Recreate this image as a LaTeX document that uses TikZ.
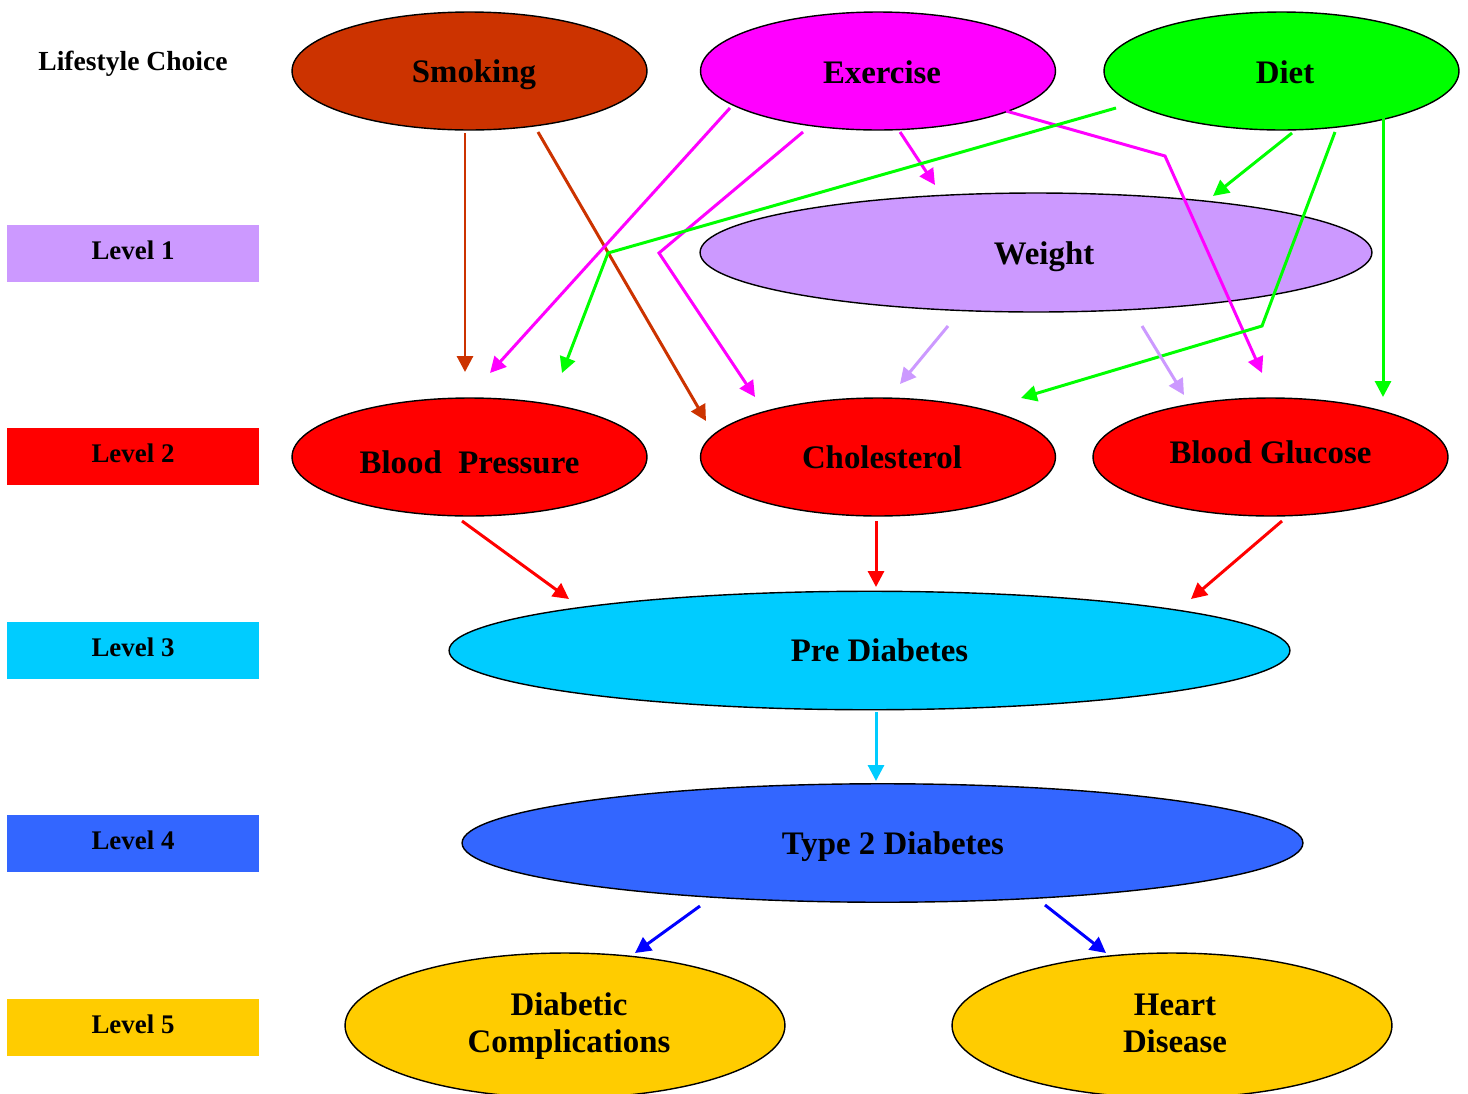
\documentclass[tikz,border=0pt]{standalone}
\usepackage{fontspec}
\setmainfont{Liberation Serif}
\usetikzlibrary{shapes.geometric,arrows.meta}
\definecolor{smokec}{HTML}{CC3300}
\definecolor{exc}{HTML}{FF00FF}
\definecolor{dietc}{HTML}{00FF00}
\definecolor{lav}{HTML}{CC99FF}
\definecolor{redc}{HTML}{FF0000}
\definecolor{cyanc}{HTML}{00CCFF}
\definecolor{bluec}{HTML}{3366FF}
\definecolor{arrblue}{HTML}{0000FF}
\definecolor{goldc}{HTML}{FFCC00}
\tikzset{
  ell/.style={ellipse, draw=black, line width=0.8pt, inner sep=0pt},
  small/.style={ell, minimum width=7.1cm, minimum height=2.36cm},
  wide/.style={ell, minimum width=16.82cm, minimum height=2.37cm},
  bottom/.style={ell, minimum width=8.8cm, minimum height=2.9cm},
  txt/.style={font=\fontsize{18.7}{21}\selectfont\bfseries, align=center, inner sep=0pt, text=black},
  lvl/.style={rectangle, minimum width=5.04cm, minimum height=1.14cm, inner sep=0pt},
  lvlt/.style={inner sep=0pt, font=\fontsize{15.3}{18}\selectfont\bfseries},
  conn/.style={line width=1.7pt, -{Triangle[length=9pt,width=9pt]}},
}
\begin{document}
\begin{tikzpicture}[x=0.02cm,y=-0.02cm]
\clip (0,0) rectangle (1468,1093);
\fill[white] (0,0) rectangle (1468,1093);

% level labels
\node[font=\fontsize{15.7}{18}\selectfont\bfseries, inner sep=0pt] (lifestyle) at (133,64) {Lifestyle Choice};
\node[lvl, fill=lav] (l1) at (133,253.5) {};
\node[lvl, fill=redc] (l2) at (133,456.5) {};
\node[lvl, fill=cyanc] (l3) at (133,650.5) {};
\node[lvl, fill=bluec] (l4) at (133,843.5) {};
\node[lvl, fill=goldc] (l5) at (133,1027.5) {};
\node[lvlt] (l1t) at (133,250.5) {Level 1};
\node[lvlt] (l2t) at (133,453.5) {Level 2};
\node[lvlt] (l3t) at (133,647.5) {Level 3};
\node[lvlt] (l4t) at (133,840.5) {Level 4};
\node[lvlt] (l5t) at (133,1024.5) {Level 5};

% ellipses
\node[small, fill=smokec] (smoking) at (469.5,71) {};
\node[small, fill=exc] (exercise) at (878,71) {};
\node[small, fill=dietc] (diet) at (1281.5,71) {};
\node[ell, fill=lav, minimum width=13.44cm, minimum height=2.38cm] (weight) at (1036,252.5) {};
\node[small, fill=redc] (bp) at (469.5,457) {};
\node[small, fill=redc] (chol) at (878,457) {};
\node[small, fill=redc] (bg) at (1270.5,457) {};
\node[wide, fill=cyanc] (pre) at (869.5,650.5) {};
\node[wide, fill=bluec] (t2) at (882.5,843) {};
\node[bottom, fill=goldc] (dc) at (565,1025.5) {};
\node[bottom, fill=goldc] (hd) at (1172,1025.5) {};

% texts
\node[txt] (smokingt) at (474,75) {Smoking};
\node[txt] (exerciset) at (882,72) {Exercise};
\node[txt] (diett) at (1285,72) {Diet};
\node[txt] (weightt) at (1044,257) {Weight};
\node[txt] (bpt) at (469.5,462) {Blood\ \ Pressure};
\node[txt] (cholt) at (882,457) {Cholesterol};
\node[txt] (bgt) at (1270.5,452) {Blood Glucose};
\node[txt] (pret) at (879.5,650) {Pre Diabetes};
\node[txt] (t2t) at (893,847) {Type 2 Diabetes};
\node[txt] (dct) at (569,1026) {Diabetic\\Complications};
\node[txt] (hdt) at (1175,1023) {Heart\\Disease};

% connector end points
\coordinate (s1a) at (465,133); \coordinate (s1b) at (465,372);
\coordinate (s2a) at (538,132); \coordinate (s2b) at (706,421);
\coordinate (e1a) at (730,108); \coordinate (e1b) at (490,373);
\coordinate (e2a) at (803,132); \coordinate (e2k) at (659,253); \coordinate (e2b) at (755,397);
\coordinate (e3a) at (900,132); \coordinate (e3b) at (935,185);
\coordinate (e4a) at (1006,111); \coordinate (e4k) at (1165,156); \coordinate (e4b) at (1262,373);
\coordinate (d1a) at (1116,108); \coordinate (d1k) at (608,253); \coordinate (d1b) at (562,373);
\coordinate (d2a) at (1292,133); \coordinate (d2b) at (1213,196);
\coordinate (d3a) at (1335,132); \coordinate (d3k) at (1262,326); \coordinate (d3b) at (1021,398);
\coordinate (d4a) at (1383,118); \coordinate (d4b) at (1383,397);
\coordinate (w1a) at (948,326); \coordinate (w1b) at (900,384);
\coordinate (w2a) at (1142,326); \coordinate (w2b) at (1184,395);
\coordinate (r1a) at (462,521); \coordinate (r1b) at (569,599);
\coordinate (r2a) at (876,521); \coordinate (r2b) at (876,587);
\coordinate (r3a) at (1282,521); \coordinate (r3b) at (1191,599);
\coordinate (c1a) at (876,712); \coordinate (c1b) at (876,781);
\coordinate (b1a) at (700,906); \coordinate (b1b) at (635,953);
\coordinate (b2a) at (1045,905); \coordinate (b2b) at (1106,953);

% connectors
\draw[conn, smokec] (s1a) -- (s1b);
\draw[conn, smokec] (s2a) -- (s2b);
\draw[conn, exc] (e1a) -- (e1b);
\draw[conn, exc] (e2a) -- (e2k) -- (e2b);
\draw[conn, exc] (e3a) -- (e3b);
\draw[conn, exc] (e4a) -- (e4k) -- (e4b);
\draw[conn, dietc] (d1a) -- (d1k) -- (d1b);
\draw[conn, dietc] (d2a) -- (d2b);
\draw[conn, dietc] (d3a) -- (d3k) -- (d3b);
\draw[conn, dietc] (d4a) -- (d4b);
\draw[conn, lav] (w1a) -- (w1b);
\draw[conn, lav] (w2a) -- (w2b);
\draw[conn, redc] (r1a) -- (r1b);
\draw[conn, redc] (r2a) -- (r2b);
\draw[conn, redc] (r3a) -- (r3b);
\draw[conn, cyanc] (c1a) -- (c1b);
\draw[conn, arrblue] (b1a) -- (b1b);
\draw[conn, arrblue] (b2a) -- (b2b);
\end{tikzpicture}
\end{document}
